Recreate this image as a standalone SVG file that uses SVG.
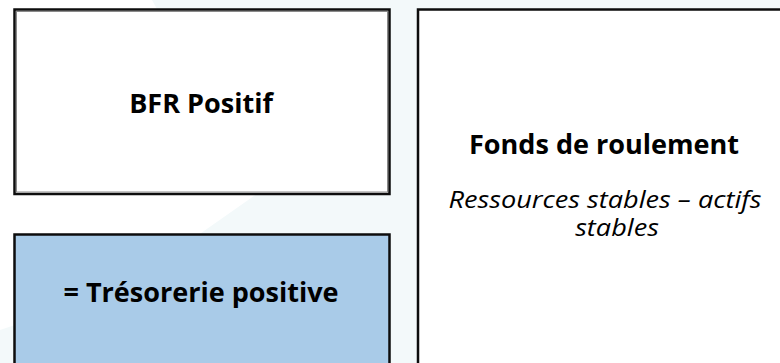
<svg xmlns="http://www.w3.org/2000/svg" width="780" height="363" viewBox="0 0 780 363">
  <style>
    .box { stroke: #0d0d0d; stroke-width: 2.5; }
    .shadow { fill: none; stroke: #8a8a8a; stroke-width: 1; }
    .title { font-family: "Open Sans", "Liberation Sans", sans-serif; font-weight: bold; font-size: 26px; fill: #000; text-anchor: middle; }
    .sub { font-family: "Open Sans", "Liberation Sans", sans-serif; font-style: italic; font-size: 23px; fill: #000; text-anchor: middle; }
  </style>
  <g id="background">
    <rect x="0" y="0" width="780" height="363" fill="#f3f9fa"/>
    <polygon points="0,0 152,0 258,193 120,290 0,330" fill="#ffffff"/>
  </g>
  <g id="node-bfr">
    <rect class="box" x="14.5" y="9.5" width="375" height="184.5" fill="#ffffff"/>
    <rect class="shadow" x="16.5" y="11.5" width="371" height="180.5"/>
    <text class="title" transform="translate(201,113) scale(1.04,1)">BFR Positif</text>
  </g>
  <g id="node-tresorerie">
    <rect class="box" x="14.5" y="234.5" width="375" height="140" fill="#a9cbe8"/>
    <text class="title" transform="translate(201,302) scale(1.04,1)">= Trésorerie positive</text>
  </g>
  <g id="node-fdr">
    <rect class="box" x="418" y="9.5" width="380" height="370" fill="#ffffff"/>
    <text class="title" transform="translate(604,154) scale(1.04,1)">Fonds de roulement</text>
    <text class="sub" transform="translate(605,208) scale(1.18,1)">Ressources stables – actifs</text>
    <text class="sub" transform="translate(617,236) scale(1.18,1)">stables</text>
  </g>
  <g id="connectors"></g>
</svg>
